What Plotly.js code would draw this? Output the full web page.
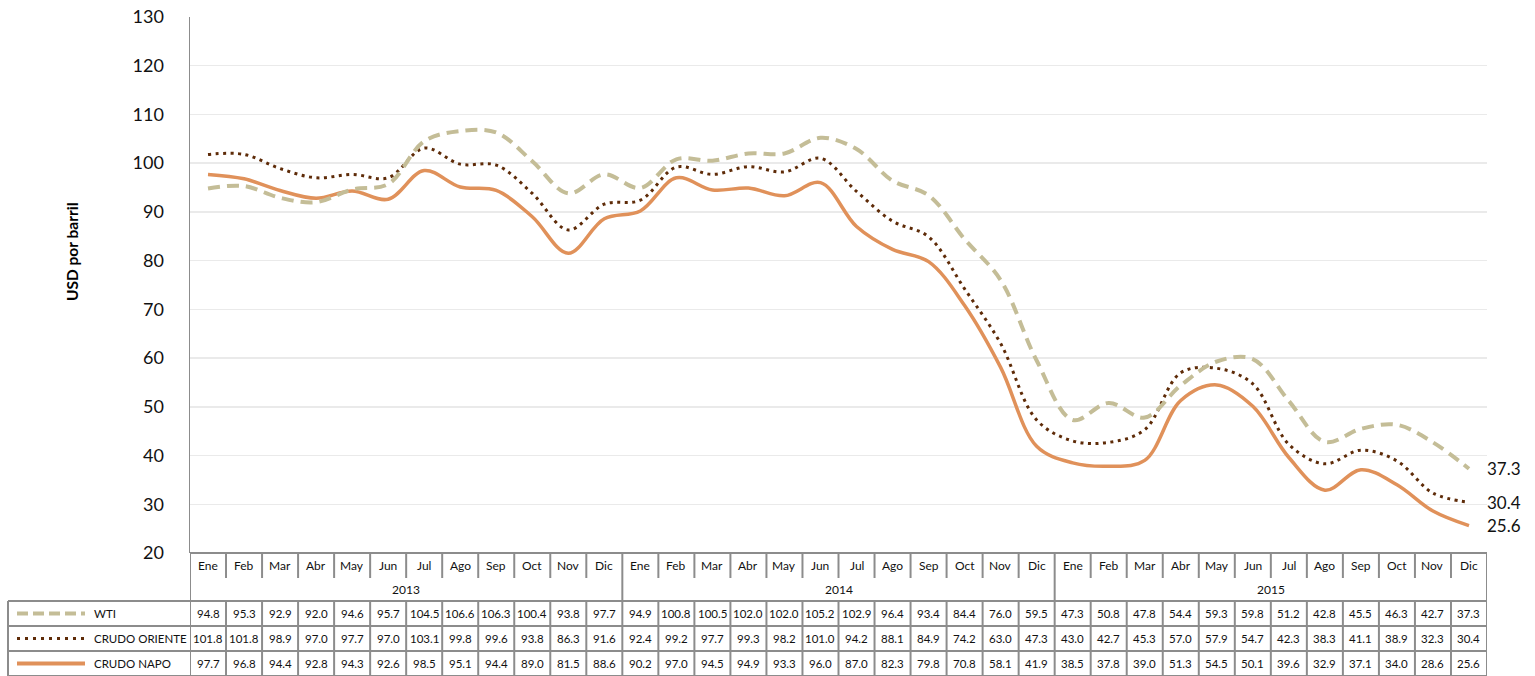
<!DOCTYPE html>
<html>
<head>
<meta charset="utf-8">
<script src="https://cdn.plot.ly/plotly-3.0.1.min.js"></script>
<style>
  html, body { margin: 0; padding: 0; background: #ffffff; }
  #chart { width: 1535px; height: 676px; }
</style>
</head>
<body>
<div id="chart"></div>
<script>
// ---- Data ----
const months = ['Ene','Feb','Mar','Abr','May','Jun','Jul','Ago','Sep','Oct','Nov','Dic'];
const years = ['2013','2014','2015'];
const seriesNames = ['WTI','CRUDO ORIENTE','CRUDO NAPO'];
const wti = [94.8, 95.3, 92.9, 92.0, 94.6, 95.7, 104.5, 106.6, 106.3, 100.4, 93.8, 97.7,
             94.9, 100.8, 100.5, 102.0, 102.0, 105.2, 102.9, 96.4, 93.4, 84.4, 76.0, 59.5,
             47.3, 50.8, 47.8, 54.4, 59.3, 59.8, 51.2, 42.8, 45.5, 46.3, 42.7, 37.3];
const oriente = [101.8, 101.8, 98.9, 97.0, 97.7, 97.0, 103.1, 99.8, 99.6, 93.8, 86.3, 91.6,
                 92.4, 99.2, 97.7, 99.3, 98.2, 101.0, 94.2, 88.1, 84.9, 74.2, 63.0, 47.3,
                 43.0, 42.7, 45.3, 57.0, 57.9, 54.7, 42.3, 38.3, 41.1, 38.9, 32.3, 30.4];
const napo = [97.7, 96.8, 94.4, 92.8, 94.3, 92.6, 98.5, 95.1, 94.4, 89.0, 81.5, 88.6,
              90.2, 97.0, 94.5, 94.9, 93.3, 96.0, 87.0, 82.3, 79.8, 70.8, 58.1, 41.9,
              38.5, 37.8, 39.0, 51.3, 54.5, 50.1, 39.6, 32.9, 37.1, 34.0, 28.6, 25.6];

// ---- Styles ----
const FONT = 'Lato, Carlito, "Open Sans", sans-serif';
const colors = ['#C4BD97', '#5E2B08', '#E0915A'];
const widths = [4, 3, 3.5];
const dashes = ['12px,7px', '3px,4.5px', 'solid'];
const legendDashes = ['11px,5px', '3px,5px', 'solid'];
const BORDER = '#8C8C8C';
const TXT = '#111111';

const seriesData = [wti, oriente, napo];
const n = wti.length;
const xs = wti.map((_, i) => i);

// geometry helpers (pixel -> paper)
const W = 1535, H = 676;
const mL = 190, mR = 48, mT = 17, mB = 123;
const plotH = H - mT - mB;
const plotW = W - mL - mR;
const py = p => (H - mB - p) / plotH;
const px = p => (p - mL) / plotW;

const traces = [2, 1, 0].map(k => ({
  x: xs,
  y: seriesData[k],
  type: 'scatter',
  mode: 'lines',
  name: seriesNames[k],
  line: { color: colors[k], width: widths[k], dash: dashes[k], shape: 'spline', smoothing: 1 },
  hoverinfo: 'skip'
}));

const shapes = [];
const annotations = [];

// Row pixel bounds
const yAxisLine = 553, monthRowBottom = 578, dataTop = 601, rowH = 25;
const rowTops = [dataTop, dataTop + rowH, dataTop + 2 * rowH];
const tableBottom = dataTop + 3 * rowH;

// vertical borders
for (let k = 0; k <= n; k++) {
  const xv = k - 0.5;
  if (k % 12 === 0) {
    shapes.push({ type: 'line', xref: 'x', yref: 'paper', x0: xv, x1: xv,
      y0: py(yAxisLine), y1: py(tableBottom), line: { color: BORDER, width: 2 } });
  } else {
    shapes.push({ type: 'line', xref: 'x', yref: 'paper', x0: xv, x1: xv,
      y0: py(yAxisLine), y1: py(monthRowBottom), line: { color: BORDER, width: 2 } });
    shapes.push({ type: 'line', xref: 'x', yref: 'paper', x0: xv, x1: xv,
      y0: py(dataTop), y1: py(tableBottom), line: { color: BORDER, width: 2 } });
  }
}
// x axis line / header top
shapes.push({ type: 'line', xref: 'paper', yref: 'paper', x0: 0, x1: 1,
  y0: py(yAxisLine), y1: py(yAxisLine), line: { color: BORDER, width: 2 } });
// data row horizontals
[dataTop, dataTop + rowH, dataTop + 2 * rowH, tableBottom].forEach(p => {
  shapes.push({ type: 'line', xref: 'paper', yref: 'paper', x0: px(8), x1: 1,
    y0: py(p), y1: py(p), line: { color: BORDER, width: 2 } });
});
// legend column left border
shapes.push({ type: 'line', xref: 'paper', yref: 'paper', x0: px(8), x1: px(8),
  y0: py(dataTop), y1: py(tableBottom), line: { color: BORDER, width: 2 } });

// Month labels
for (let i = 0; i < n; i++) {
  annotations.push({ x: i, xref: 'x', y: py((yAxisLine + monthRowBottom) / 2), yref: 'paper',
    text: months[i % 12], showarrow: false, xanchor: 'center', yanchor: 'middle',
    font: { family: FONT, size: 12, color: TXT } });
}
// Year labels
years.forEach((yr, j) => {
  annotations.push({ x: j * 12 + 5.5, xref: 'x', y: py((monthRowBottom + dataTop) / 2), yref: 'paper',
    text: yr, showarrow: false, xanchor: 'center', yanchor: 'middle',
    font: { family: FONT, size: 12, color: TXT } });
});
// Data values + legend keys
seriesData.forEach((arr, k) => {
  const cy = py(rowTops[k] + rowH / 2);
  arr.forEach((v, i) => {
    annotations.push({ x: i, xref: 'x', y: cy, yref: 'paper', text: v.toFixed(1),
      showarrow: false, xanchor: 'center', yanchor: 'middle',
      font: { family: FONT, size: 11.5, color: TXT } });
  });
  shapes.push({ type: 'line', xref: 'paper', yref: 'paper', x0: px(17), x1: px(85),
    y0: cy, y1: cy, line: { color: colors[k], width: k === 1 ? 3 : 4, dash: legendDashes[k] } });
  annotations.push({ x: px(92), xref: 'paper', y: cy, yref: 'paper', text: seriesNames[k],
    showarrow: false, xanchor: 'left', yanchor: 'middle',
    font: { family: FONT, size: 11.5, color: TXT } });
  // end label
  annotations.push({ x: n - 1, xref: 'x', y: arr[n - 1], yref: 'y', text: arr[n - 1].toFixed(1),
    showarrow: false, xanchor: 'left', yanchor: 'middle', xshift: 16,
    font: { family: FONT, size: 17, color: TXT } });
});

// Y axis title
annotations.push({ x: px(72), xref: 'paper', y: py(252), yref: 'paper', text: '<b>USD por barril</b>',
  showarrow: false, textangle: -90, xanchor: 'center', yanchor: 'middle',
  font: { family: FONT, size: 15.5, color: '#000' } });

const layout = {
  width: W, height: H,
  margin: { l: mL, r: mR, t: mT, b: mB, pad: 0 },
  paper_bgcolor: '#ffffff', plot_bgcolor: '#ffffff',
  showlegend: false,
  font: { family: FONT, color: TXT },
  xaxis: { range: [-0.5, n - 0.5], showgrid: false, zeroline: false, showline: false,
    showticklabels: false, ticks: '', fixedrange: true },
  yaxis: { range: [20, 130], dtick: 10, tick0: 20, showgrid: true, gridcolor: '#EAEAEA', gridwidth: 1.5,
    zeroline: false, showline: true, linecolor: BORDER, linewidth: 1.5,
    ticks: '', ticklabelstandoff: 21, tickfont: { family: FONT, size: 18, color: TXT },
    fixedrange: true },
  shapes: shapes,
  annotations: annotations
};

Plotly.newPlot('chart', traces, layout, { displayModeBar: false, staticPlot: true });
</script>
</body>
</html>
